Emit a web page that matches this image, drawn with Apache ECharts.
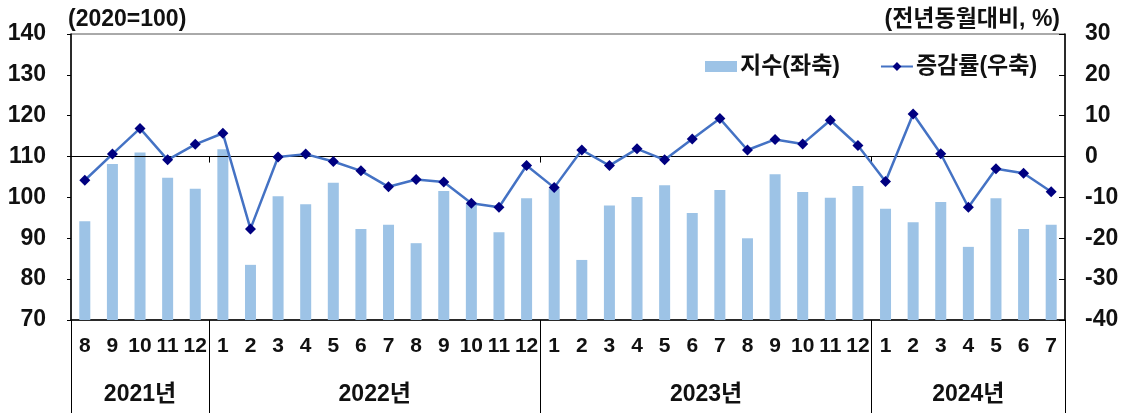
<!DOCTYPE html>
<html>
<head>
<meta charset="utf-8">
<script src="https://cdn.jsdelivr.net/npm/echarts@6/dist/echarts.min.js"></script>
<style>
  html, body { margin: 0; padding: 0; background: #fff; }
  #main { width: 1125px; height: 413px; }
</style>
</head>
<body>
<div id="main"></div>
<script>
// months from 2021-8 to 2024-7
var months = ['8', '9', '10', '11', '12',
    '1', '2', '3', '4', '5', '6', '7', '8', '9', '10', '11', '12',
    '1', '2', '3', '4', '5', '6', '7', '8', '9', '10', '11', '12',
    '1', '2', '3', '4', '5', '6', '7'];
var years = ['2021년', '2022년', '2023년', '2024년'];
var yearBounds = [0, 5, 17, 29, 36];

// index (2020=100), left axis
var indexValues = [94.2, 108.2, 111.0, 104.8, 102.1,
    111.8, 83.5, 100.3, 98.3, 103.6, 92.3, 93.3, 88.8, 101.6, 98.6, 91.5, 99.8,
    102.2, 84.7, 98.0, 100.1, 103.0, 96.2, 101.8, 90.0, 105.7, 101.3, 99.9, 102.8,
    97.2, 93.9, 98.9, 87.9, 99.8, 92.3, 93.3];
// year-on-year change (%), right axis
var yoyValues = [-5.8, 0.6, 6.9, -0.8, 3.0,
    5.7, -17.7, -0.1, 0.6, -1.2, -3.5, -7.4, -5.6, -6.2, -11.4, -12.4, -2.2,
    -7.6, 1.6, -2.2, 1.9, -0.8, 4.3, 9.3, 1.6, 4.2, 3.1, 8.9, 2.7,
    -6.1, 10.4, 0.7, -12.4, -3.0, -4.1, -8.6];

var FONT = 'Arial, "Liberation Sans", "Noto Sans CJK KR", sans-serif';
var TXT = '#111';
var FS = 23;

// label positions for the year row: middle of each year span
var yearMids = [];
for (var i = 0; i < years.length; i++) {
    yearMids.push((yearBounds[i] + yearBounds[i + 1]) / 2);
}

var myChart = echarts.init(document.getElementById('main'));

var option = {
    animation: false,
    backgroundColor: '#fff',
    textStyle: { fontFamily: FONT },
    title: [
        {
            text: '(2020=100)',
            left: 63, top: 3,
            textStyle: { fontFamily: FONT, fontSize: FS, fontWeight: 'bold', color: TXT }
        },
        {
            text: '(전년동월대비, %)',
            right: 60, top: 3,
            textStyle: { fontFamily: FONT, fontSize: FS, fontWeight: 'bold', color: TXT }
        }
    ],
    legend: {
        left: 700, top: 50,
        itemWidth: 32, itemHeight: 11,
        itemGap: 40,
        textStyle: { fontFamily: FONT, fontSize: FS, fontWeight: 'bold', color: TXT, padding: [0, 0, 0, -2] },
        data: [
            { name: '지수(좌축)', icon: 'rect' },
            { name: '증감률(우축)' }
        ]
    },
    grid: {
        left: 71, right: 60, top: 34, bottom: 93,
        show: true,
        borderColor: '#555',
        borderWidth: 1
    },
    xAxis: [
        {
            type: 'category',
            data: months,
            position: 'bottom',
            axisLine: { onZero: false, lineStyle: { color: '#000', width: 1.5 } },
            axisTick: { interval: 0, length: 40, lineStyle: { color: '#000' } },
            axisLabel: {
                interval: 0, margin: 16,
                fontFamily: FONT, fontSize: 21, fontWeight: 'bold', color: TXT
            },
            splitLine: { show: false }
        },
        {
            type: 'category',
            data: months,
            position: 'bottom',
            axisLine: { show: false, onZero: false },
            axisTick: { interval: 0, inside: true, length: 6, lineStyle: { color: '#000' } },
            axisLabel: { show: false },
            splitLine: { show: false }
        },
        {
            type: 'value',
            min: 0, max: 36,
            position: 'bottom',
            axisLine: { show: false, onZero: false },
            axisTick: { customValues: yearBounds, length: 93, lineStyle: { color: '#000' } },
            axisLabel: {
                customValues: yearMids,
                margin: 63,
                formatter: function (v) {
                    return years[yearMids.indexOf(v)];
                },
                fontFamily: FONT, fontSize: FS, fontWeight: 'bold', color: TXT
            },
            splitLine: { show: false }
        },
        {
            type: 'value',
            min: 0, max: 36,
            position: 'bottom',
            z: 3,
            axisLine: { onZero: true, onZeroAxisIndex: 1, lineStyle: { color: '#000', width: 1.2 } },
            axisTick: { customValues: [5, 17, 29], length: 6, lineStyle: { color: '#000' } },
            axisLabel: { show: false },
            splitLine: { show: false }
        }
    ],
    yAxis: [
        {
            type: 'value',
            min: 70, max: 140, interval: 10,
            position: 'left',
            axisLine: { show: true, onZero: false, lineStyle: { color: '#000', width: 1.5 } },
            axisTick: { show: true, length: 4, lineStyle: { color: '#000' } },
            axisLabel: { margin: 25, fontFamily: FONT, fontSize: FS, fontWeight: 'bold', color: TXT },
            splitLine: { show: false }
        },
        {
            type: 'value',
            min: -40, max: 30, interval: 10,
            position: 'right',
            axisLine: { show: true, onZero: false, lineStyle: { color: '#000', width: 1.5 } },
            axisTick: { show: true, inside: true, length: 6, lineStyle: { color: '#000' } },
            axisLabel: { margin: 20, fontFamily: FONT, fontSize: FS, fontWeight: 'bold', color: TXT },
            splitLine: { show: false }
        }
    ],
    series: [
        {
            name: '지수(좌축)',
            type: 'bar',
            xAxisIndex: 0,
            yAxisIndex: 0,
            barWidth: 11,
            itemStyle: { color: '#9dc3e6' },
            data: indexValues
        },
        {
            name: '증감률(우축)',
            type: 'line',
            xAxisIndex: 0,
            yAxisIndex: 1,
            z: 4,
            symbol: 'diamond',
            symbolSize: 11,
            lineStyle: { color: '#4472c4', width: 2.5 },
            itemStyle: { color: '#000080' },
            data: yoyValues
        }
    ]
};

myChart.setOption(option);
</script>
</body>
</html>
